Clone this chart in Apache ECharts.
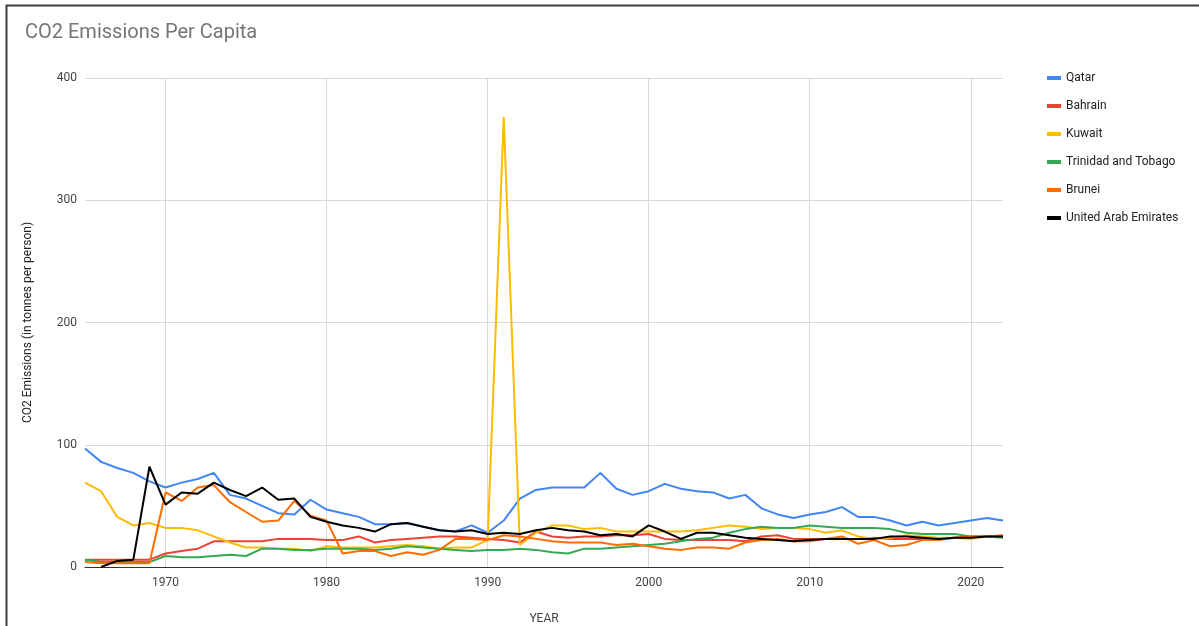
<!DOCTYPE html>
<html>
<head>
<meta charset="utf-8">
<script src="https://cdn.jsdelivr.net/npm/echarts@6/dist/echarts.min.js"></script>
<style>
html,body{margin:0;padding:0;background:#fff;}
#chart{width:1199px;height:626px;}
</style>
</head>
<body>
<div id="chart"></div>
<script>
var years = [];
for (var y = 1965; y <= 2022; y++) years.push(String(y));

var qatar = [97,86,81,77,70,65,69,72,77,59,56, 50,44,43,55,47,44,41,35,35,36, 33,30,29,34,28,38,56,63,65,65, 65,77,64,59,62,68,64,62,61,56, 59,48,43,40,43,45,49,41,41,38, 34,37,34,36,38,40,38];
var bahrain = [6,6,6,6,6,11,13,15,21,21,21, 21,23,23,23,22,22,25,20,22,23, 24,25,25,24,23,22,20,29,25,24, 25,25,26,26,27,23,22,22,22,22, 21,25,26,23,23,23,23,23,24,23, 23,23,23,24,25,25,25];
var kuwait = [69,62,41,34,36,32,32,30,25,20,16, 16,15,15,13,17,16,16,16,17,18, 17,15,16,16,22,368,18,28,34,34, 31,32,29,29,29,29,29,30,32,34, 33,31,32,32,31,28,30,25,23,24, 26,25,24,24,23,25,25];
var trinidad = [6,4,4,4,4,9,8,8,9,10,9, 15,15,14,14,15,15,15,14,15,17, 16,15,14,13,14,14,15,14,12,11, 15,15,16,17,18,19,21,23,24,28, 31,33,32,32,34,33,32,32,32,31, 28,27,27,27,25,25,24];
var brunei = [4,3,3,3,3,61,54,65,67,53,45, 37,38,54,42,38,11,13,13,9,12, 10,14,23,23,22,26,25,23,21,20, 20,20,18,19,17,15,14,16,16,15, 20,22,23,21,21,23,25,19,22,17, 18,22,22,24,25,25,26];
var uae = [null,0,5,6,82,51,61,60,69,63,58, 65,55,56,41,37,34,32,29,35,36, 33,30,29,30,27,28,27,30,32,30, 29,26,27,25,34,29,23,28,28,26, 24,23,22,21,22,23,23,23,23,25, 25,24,23,24,24,25,25];

var seriesNames = ["Qatar","Bahrain","Kuwait","Trinidad and Tobago","Brunei","United Arab Emirates"];
var seriesData = [qatar, bahrain, kuwait, trinidad, brunei, uae];
var colors = ["#4285F4","#EA4335","#FBBC04","#34A853","#FF6D01","#000000"];

var chart = echarts.init(document.getElementById('chart'), null, {renderer:'canvas'});
var decade = function(idx, val){ return Number(val) % 10 === 0; };

chart.setOption({
  animation: false,
  color: colors,
  textStyle: {fontFamily: 'Roboto'},
  title: {
    text: 'CO2 Emissions Per Capita',
    left: 20, top: 18,
    textStyle: {fontSize: 20, fontWeight: 'normal', color: '#757575', fontFamily: 'Roboto'}
  },
  graphic: [{
    type: 'rect', silent: true,
    shape: {x: 6.5, y: 5.5, width: 1400, height: 1000},
    style: {fill: 'none', stroke: '#3c3c3c', lineWidth: 2}
  }],
  legend: {
    orient: 'vertical',
    left: 1042, top: 66,
    icon: 'rect',
    itemWidth: 14, itemHeight: 4,
    itemGap: 14,
    textStyle: {fontSize: 12, color: '#222', lineHeight: 14, fontFamily: 'Roboto'},
    data: seriesNames
  },
  grid: {left: 85, right: 196, top: 78, bottom: 59, containLabel: false, outerBoundsMode: 'none'},
  xAxis: {
    type: 'category',
    data: years,
    boundaryGap: false,
    name: 'YEAR',
    nameLocation: 'middle',
    nameGap: 46,
    nameTextStyle: {fontSize: 12, color: '#444'},
    axisLine: {show: true, lineStyle: {color: '#333', width: 1}},
    axisTick: {show: false},
    axisLabel: {interval: decade, color: '#444', fontSize: 12, margin: 10},
    splitLine: {show: true, interval: decade, lineStyle: {color: '#d9d9d9', width: 1}}
  },
  yAxis: {
    type: 'value',
    min: 0, max: 400, interval: 100,
    name: 'CO2 Emissions (in tonnes per person)',
    nameLocation: 'middle',
    nameGap: 51,
    nameTextStyle: {fontSize: 12, color: '#222'},
    axisLine: {show: false},
    axisTick: {show: false},
    axisLabel: {color: '#444', fontSize: 12, margin: 8},
    splitLine: {show: true, lineStyle: {color: '#d9d9d9', width: 1}}
  },
  series: seriesNames.map(function(n, i){
    return {
      name: n, type: 'line', data: seriesData[i],
      showSymbol: false, symbol: 'none',
      lineStyle: {width: 2, color: colors[i]},
      itemStyle: {color: colors[i]},
      connectNulls: false
    };
  })
});
</script>
</body>
</html>
